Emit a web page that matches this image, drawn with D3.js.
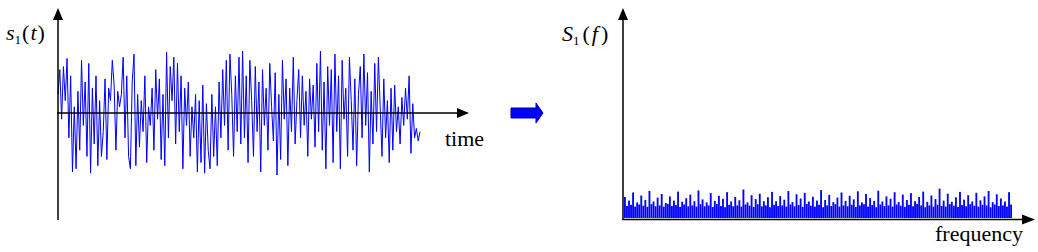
<!DOCTYPE html>
<html><head><meta charset="utf-8">
<script src="https://cdn.jsdelivr.net/npm/d3@7"></script>
<style>body{margin:0;background:#fff}svg{display:block}</style>
</head><body>
<script>
// time-domain signal s1(t), relative amplitude (-100..100)
const signal = [
30,70,-10,75,20,88,-40,60,-95,10,-90,35,-60,85,-20,50,-70,80,-97,40,-50,60,-85,20,-70,-30,55,-75,40,20,85,45,-60,35,10,30,90,-40,60,-70,-90,50,95,-85,30,-55,20,-30,60,-80,10,
-20,40,-60,70,-10,55,-75,30,-85,98,-40,75,20,90,-50,80,-30,60,-90,40,-20,50,-70,10,-40,30,-95,20,-80,45,-97,15,-60,-90,30,-70,10,-85,50,-40,70,-20,85,-60,95,30,-70,60,-30,90,
-50,100,-40,60,-80,85,20,-70,75,-30,50,-95,70,-20,40,-60,80,10,-45,65,-100,30,-75,85,-10,55,-85,40,-30,90,-50,20,70,-40,60,-20,35,-70,55,-10,45,-55,80,-30,100,-60,50,-90,75,-20,
70,-80,95,-30,60,-90,85,-10,40,-70,90,20,-60,55,-85,30,75,-40,95,-20,65,-95,35,-50,80,-30,90,10,-70,55,-40,20,-80,40,-60,45,-30,10,-50,25,-20,40,-10,60,-65,15,-40,-25,-45,-30
];
// spectrum magnitude S1(f), relative (0..100)
const spectrum = [
70,40,58,44,85,38,52,45,75,41,60,37,90,46,55,39,68,42,80,38,50,47,72,40,58,43,88,37,54,45,66,39,78,42,56,38,92,46,62,39,52,42,83,37,57,47,74,40,64,36,86,44,55,39,70,42,59,38,95,45,52,41,76,37,63,46,81,39,56,42,69,36,87,44,56,40,73,42,61,38,90,45,53,39,79,43,65,37,84,47,55,41,71,38,58,44,93,36,60,42,77,40,53,46,68,38,85,42,57,39,74,44,62,37,89,42,52,46,80,38,66,43,57,36,91,45,55,40,72,42,64,38,86,45,53,41,78,37,60,44,83,39,56,47,70,42,88,36,54,42,75,38,63,44,98,40,58,38,81,46,54,41,69,37,87,43,61,39,76,46,55,41,84,38,59,44,72,42,90,36,53,45,79,40,65,42,55,38,86,45
];
const labels = {yLeft: ["s","1","t"], yRight: ["S","1","f"], xLeft: "time", xRight: "frequency"};

const W = 1038, H = 252;
const svg = d3.select("body").append("svg").attr("width", W).attr("height", H);
const FONT = "Liberation Serif";

// ---------- left panel ----------
const x1 = d3.scaleLinear().domain([0, signal.length - 1]).range([58, 420]);
const y1 = d3.scaleLinear().domain([-100, 100]).range([175, 51]);

svg.append("path").datum(signal)
  .attr("fill", "none").attr("stroke", "#0000ff").attr("stroke-width", 1)
  .attr("d", d3.line().x((d, i) => x1(i)).y(d => y1(d)));

const axisColor = "#000";
svg.append("line").attr("x1", 58).attr("x2", 58).attr("y1", 18).attr("y2", 220)
  .attr("stroke", axisColor).attr("stroke-width", 1.5);
svg.append("path").attr("d", "M58,8 L53,20 L63,20 Z").attr("fill", axisColor);
svg.append("line").attr("x1", 57).attr("x2", 459).attr("y1", y1(0)).attr("y2", y1(0))
  .attr("stroke", axisColor).attr("stroke-width", 1.5);
svg.append("path").attr("d", `M469,${y1(0)} L457,${y1(0)-5} L457,${y1(0)+5} Z`).attr("fill", axisColor);

svg.append("text").attr("x", 445).attr("y", 146)
  .attr("font-family", FONT).attr("font-size", 22).text(labels.xLeft);

const tl = svg.append("text").attr("x", 6).attr("y", 40).attr("font-family", FONT).attr("font-size", 22);
tl.append("tspan").attr("font-style", "italic").text(labels.yLeft[0]);
tl.append("tspan").attr("font-size", 13).attr("dy", 4).text(labels.yLeft[1]);
tl.append("tspan").attr("dy", -4).attr("dx", 1).text("(");
tl.append("tspan").attr("font-style", "italic").attr("dx", 1).text(labels.yLeft[2]);
tl.append("tspan").attr("dx", 1).text(")");

// ---------- blue arrow ----------
svg.append("path").attr("d", "M511,108 L536,108 L536,103 L543,113 L536,123 L536,118 L511,118 Z")
  .attr("fill", "#0000ff").attr("stroke", "#000099").attr("stroke-width", 1);

// ---------- right panel ----------
const x2 = d3.scaleBand().domain(d3.range(spectrum.length)).range([624, 1012]).paddingInner(0.1);
const y2 = d3.scaleLinear().domain([0, 100]).range([218, 188]);

svg.append("g").selectAll("rect").data(spectrum).join("rect")
  .attr("x", (d, i) => x2(i)).attr("width", x2.bandwidth())
  .attr("y", d => y2(d)).attr("height", d => y2(0) - y2(d))
  .attr("fill", "#0000ff");

svg.append("line").attr("x1", 623).attr("x2", 623).attr("y1", 18).attr("y2", 220)
  .attr("stroke", axisColor).attr("stroke-width", 1.5);
svg.append("path").attr("d", "M623,8 L618,20 L628,20 Z").attr("fill", axisColor);
svg.append("line").attr("x1", 622).attr("x2", 1024).attr("y1", 219.5).attr("y2", 219.5)
  .attr("stroke", axisColor).attr("stroke-width", 1.5);
svg.append("path").attr("d", "M1035,219.5 L1022,214.5 L1022,224.5 Z").attr("fill", axisColor);

svg.append("text").attr("x", 935).attr("y", 241)
  .attr("font-family", FONT).attr("font-size", 22).text(labels.xRight);

const tr = svg.append("text").attr("x", 562).attr("y", 41).attr("font-family", FONT).attr("font-size", 22);
tr.append("tspan").attr("font-style", "italic").text(labels.yRight[0]);
tr.append("tspan").attr("font-size", 13).attr("dy", 4).text(labels.yRight[1]);
tr.append("tspan").attr("dy", -4).attr("dx", 3).text("(");
tr.append("tspan").attr("font-style", "italic").attr("dx", 2).text(labels.yRight[2]);
tr.append("tspan").attr("dx", 3).text(")");
</script>
</body></html>
